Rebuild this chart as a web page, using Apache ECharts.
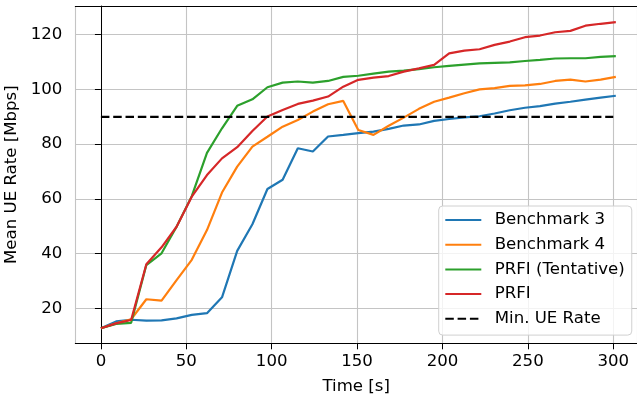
<!DOCTYPE html>
<html>
<head>
<meta charset="utf-8">
<script src="https://cdn.jsdelivr.net/npm/echarts@6/dist/echarts.min.js"></script>
<style>html,body{margin:0;padding:0;background:#fff}#c{width:637px;height:397px}</style>
</head>
<body>
<div id="c"></div>
<script>
const timeS = [0, 8.9, 17.7, 26.6, 35.5, 44.3, 53.2, 62.1, 70.9, 79.8, 88.7, 97.5, 106.4, 115.3, 124.1, 133.0, 141.9, 150.7, 159.6, 168.5, 177.3, 186.2, 195.1, 203.9, 212.8, 221.7, 230.5, 239.4, 248.3, 257.1, 266.0, 274.9, 283.7, 292.6, 301.5];
const benchmark3 = [12.7, 15.2, 15.8, 15.5, 15.6, 16.3, 17.6, 18.2, 24.0, 41.0, 50.7, 63.6, 67.0, 78.5, 77.3, 82.8, 83.4, 84.0, 84.6, 85.6, 86.8, 87.2, 88.5, 89.2, 89.8, 90.2, 91.2, 92.4, 93.3, 93.9, 94.8, 95.5, 96.3, 97.0, 97.7];
const benchmark4 = [12.7, 14.5, 16.0, 23.3, 22.8, 30.3, 37.7, 48.6, 62.3, 71.8, 79.1, 82.7, 86.4, 88.8, 91.9, 94.6, 95.8, 85.2, 83.4, 86.7, 89.7, 92.9, 95.5, 97.0, 98.6, 100.0, 100.5, 101.3, 101.5, 102.0, 103.1, 103.6, 102.9, 103.6, 104.6];
const prfiTentative = [12.7, 14.3, 14.7, 35.8, 40.1, 49.8, 61.0, 76.8, 85.8, 94.0, 96.4, 100.8, 102.5, 102.9, 102.5, 103.1, 104.6, 105.0, 105.8, 106.5, 106.9, 107.4, 108.1, 108.6, 109.1, 109.5, 109.7, 109.9, 110.4, 110.8, 111.3, 111.4, 111.4, 111.9, 112.2];
const prfi = [12.7, 14.5, 15.7, 36.1, 42.3, 49.8, 60.8, 68.7, 74.8, 78.9, 84.8, 90.1, 92.5, 94.7, 95.9, 97.4, 101.0, 103.5, 104.3, 104.9, 106.5, 107.7, 109.0, 113.2, 114.2, 114.7, 116.3, 117.5, 119.1, 119.7, 120.9, 121.4, 123.3, 124.0, 124.6];
const minRateX = [0, 300];
const minRateY = [90, 90];
const seriesNames = ['Benchmark 3', 'Benchmark 4', 'PRFI (Tentative)', 'PRFI', 'Min. UE Rate'];
const colors = ['#1f77b4', '#ff7f0e', '#2ca02c', '#d62728', '#000000'];

const pairs = (xs, ys) => xs.map((x, i) => [x, ys[i]]);
const font = 'DejaVu Sans';
const txt = '#000';
const fs = 16.6;

const lineSeries = [benchmark3, benchmark4, prfiTentative, prfi].map((ys, i) => ({
  name: seriesNames[i], type: 'line', data: pairs(timeS, ys),
  symbol: 'none', lineStyle: { width: 2.2, color: colors[i] }, itemStyle: { color: colors[i] },
  z: 3 + i, animation: false
}));
lineSeries.push({
  name: seriesNames[4], type: 'line', data: pairs(minRateX, minRateY),
  symbol: 'none', lineStyle: { width: 2.2, color: '#000', type: [8.5, 3.8] }, itemStyle: { color: '#000' },
  z: 8, animation: false
});

const splitStyle = { show: true, lineStyle: { color: '#c4c4c4', width: 1.1 } };
const tickStyle = { show: true, inside: false, length: 6, lineStyle: { color: '#000', width: 1 } };

const chart = echarts.init(document.getElementById('c'), null, { renderer: 'canvas' });
chart.setOption({
  animation: false,
  backgroundColor: '#fff',
  grid: { left: 75.3, top: 6, right: 0, bottom: 53.7, show: false, containLabel: false, outerBoundsMode: 'none' },
  xAxis: [{
    type: 'value', min: -15, max: 313.9, splitNumber: 6,
    name: 'Time [s]', nameLocation: 'middle', nameGap: 35,
    nameTextStyle: { fontFamily: font, fontSize: fs, color: txt },
    axisLine: { show: true, lineStyle: { color: '#000', width: 1 } },
    axisTick: tickStyle,
    axisLabel: { fontFamily: font, fontSize: fs, color: txt, margin: 10, showMinLabel: false, showMaxLabel: false },
    splitLine: splitStyle
  }, {
    type: 'value', position: 'top', min: -15, max: 313.9,
    axisLine: { show: true, onZero: false, lineStyle: { color: '#000', width: 1 } },
    axisTick: { show: false }, axisLabel: { show: false }, splitLine: { show: false }
  }],
  yAxis: {
    type: 'value', min: 7.2, max: 130.5, splitNumber: 6,
    name: 'Mean UE Rate [Mbps]', nameLocation: 'middle', nameGap: 47,
    nameTextStyle: { fontFamily: font, fontSize: fs, color: txt },
    axisLine: { show: true, lineStyle: { color: '#000', width: 1 } },
    axisTick: tickStyle,
    axisLabel: { fontFamily: font, fontSize: fs, color: txt, margin: 13, showMinLabel: false, showMaxLabel: false },
    splitLine: splitStyle
  },
  legend: {
    orient: 'vertical', left: 438.7, top: 206,
    padding: [5.5, 7, 7.8, 5.6], itemGap: 7.7, itemWidth: 36, itemHeight: 17,
    backgroundColor: 'rgba(255,255,255,0.8)', borderColor: '#d0d0d0', borderWidth: 1, borderRadius: 4,
    itemStyle: { opacity: 0 },
    textStyle: { fontFamily: font, fontSize: fs, lineHeight: 17, color: txt, padding: [0, 0, 0, 8.4] },
    data: seriesNames
  },
  series: lineSeries
});
</script>
</body>
</html>
